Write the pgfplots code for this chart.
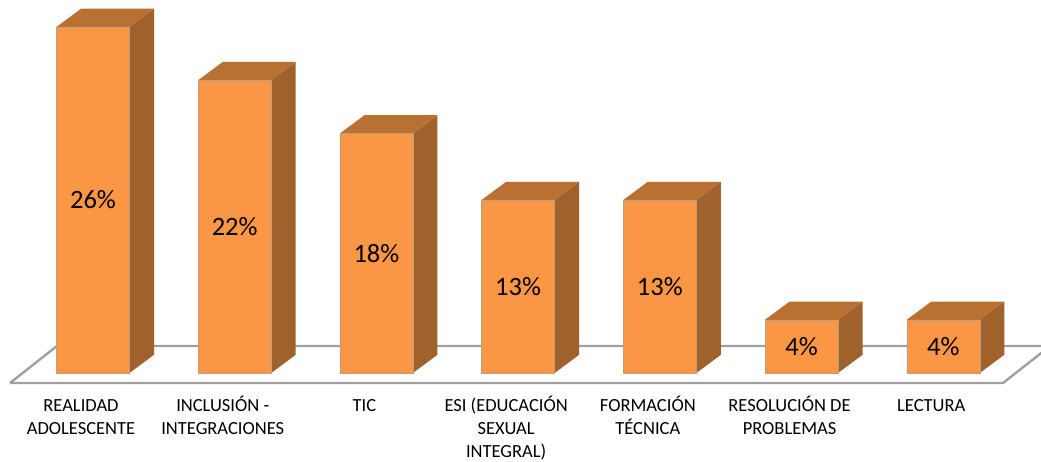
\documentclass[border=0pt]{standalone}
\usepackage{pgfplots}
\pgfplotsset{compat=1.18}
\usepackage{fontspec}
\setmainfont{Carlito}
\definecolor{front}{HTML}{FA9644}
\definecolor{sidef}{HTML}{9F622C}
\definecolor{topf}{HTML}{B87132}
\definecolor{edge}{HTML}{A0A0A0}
\begin{document}
\begin{tikzpicture}
\useasboundingbox (0,0) rectangle (1041pt,461pt);
\begin{axis}[
  at={(0,0)}, anchor=south west,
  scale only axis, width=1041pt, height=461pt,
  xmin=-0.6563, xmax=6.690, ymin=-6.612, ymax=28.024,
  axis line style={draw=none},
  major tick length=0pt,
  ytick=\empty,
  xtick={0,1,2,3,4,5,6},
  xticklabels={{\strut REALIDAD\\ADOLESCENTE},{\strut INCLUSIÓN -\\INTEGRACIONES},{\strut TIC},{\strut ESI (EDUCACIÓN\\SEXUAL\\INTEGRAL)},{\strut FORMACIÓN\\TÉCNICA},{\strut RESOLUCIÓN DE\\PROBLEMAS},{\strut LECTURA}},
  x tick label style={align=center, font=\fontsize{18.5}{23}\selectfont, xshift=-12pt, yshift=69.4pt, anchor=north},
  clip=true,
]
% floor
\addplot[draw=edge, line width=2.4pt, line join=miter] coordinates {(-0.5856,-0.75) (6.422,-0.75) (6.754,2.03)};
\addplot[draw=edge, line width=2.4pt, forget plot] coordinates {(-0.5856,-0.75) (-0.254,2.03) (7,2.03)};
% right faces
\addplot[draw=none, fill=sidef] coordinates {(0.2576,0) (0.4305,1.367) (0.4305,27.367) (0.2576,26)} -- cycle;
\addplot[draw=none, fill=sidef] coordinates {(1.2576,0) (1.4305,1.367) (1.4305,23.367) (1.2576,22)} -- cycle;
\addplot[draw=none, fill=sidef] coordinates {(2.2576,0) (2.4305,1.367) (2.4305,19.367) (2.2576,18)} -- cycle;
\addplot[draw=none, fill=sidef] coordinates {(3.2576,0) (3.4305,1.367) (3.4305,14.367) (3.2576,13)} -- cycle;
\addplot[draw=none, fill=sidef] coordinates {(4.2576,0) (4.4305,1.367) (4.4305,14.367) (4.2576,13)} -- cycle;
\addplot[draw=none, fill=sidef] coordinates {(5.2576,0) (5.4305,1.367) (5.4305,5.367) (5.2576,4)} -- cycle;
\addplot[draw=none, fill=sidef] coordinates {(6.2576,0) (6.4305,1.367) (6.4305,5.367) (6.2576,4)} -- cycle;
% top faces
\addplot[draw=none, fill=topf] coordinates {(-0.2576,26) (-0.0847,27.367) (0.4305,27.367) (0.2576,26)} -- cycle;
\addplot[draw=none, fill=topf] coordinates {(0.7424,22) (0.9153,23.367) (1.4305,23.367) (1.2576,22)} -- cycle;
\addplot[draw=none, fill=topf] coordinates {(1.7424,18) (1.9153,19.367) (2.4305,19.367) (2.2576,18)} -- cycle;
\addplot[draw=none, fill=topf] coordinates {(2.7424,13) (2.9153,14.367) (3.4305,14.367) (3.2576,13)} -- cycle;
\addplot[draw=none, fill=topf] coordinates {(3.7424,13) (3.9153,14.367) (4.4305,14.367) (4.2576,13)} -- cycle;
\addplot[draw=none, fill=topf] coordinates {(4.7424,4) (4.9153,5.367) (5.4305,5.367) (5.2576,4)} -- cycle;
\addplot[draw=none, fill=topf] coordinates {(5.7424,4) (5.9153,5.367) (6.4305,5.367) (6.2576,4)} -- cycle;
% front faces
\addplot[ybar, bar width=73pt, bar shift=0pt, fill=front, draw=edge!70!front, line width=0.5pt] coordinates {(0,26) (1,22) (2,18) (3,13) (4,13) (5,4) (6,4)};
% value labels
\addplot[draw=none, mark=none, point meta=explicit symbolic,
  nodes near coords,
  every node near coord/.append style={anchor=center, yshift=0pt, font=\fontsize{26.5}{30}\selectfont, text=black}]
  coordinates {(0,13) [26\%] (1,11) [22\%] (2,9) [18\%] (3,6.5) [13\%] (4,6.5) [13\%] (5,2) [4\%] (6,2) [4\%]};
\end{axis}
\end{tikzpicture}
\end{document}
